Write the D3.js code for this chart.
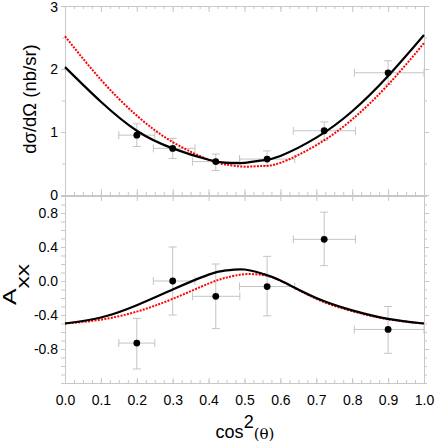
<!DOCTYPE html>
<html>
<head>
<meta charset="utf-8">
<script src="https://cdn.jsdelivr.net/npm/d3@7"></script>
<style>
	body { margin: 0; background: #fff; }
	text { font-family: 'Liberation Sans', Arial, sans-serif; fill: #000; }
	.axis path, .axis line { stroke: #c8c8c8; }
</style>
</head>
<body>
<svg></svg>
<script>
'use strict'

// measured points, cos^2(theta) bins
let pointX = [0.2, 0.3, 0.42, 0.563, 0.722, 0.9]
let binLo = [0.15, 0.246, 0.355, 0.486, 0.636, 0.806]
let binHi = [0.25, 0.362, 0.487, 0.64, 0.809, 1.0]

let xsecVal = [0.95, 0.74, 0.53, 0.57, 1.02, 1.94]
let xsecLo = [0.77, 0.58, 0.39, 0.47, 0.87, 1.75]
let xsecHi = [1.13, 0.90, 0.65, 0.70, 1.16, 2.13]

let axxVal = [-0.73, 0.0, -0.18, -0.065, 0.49, -0.57]
let axxLo = [-1.035, -0.40, -0.56, -0.41, 0.18, -0.85]
let axxHi = [-0.44, 0.40, 0.20, 0.29, 0.81, -0.30]

// model curves
let curveX = [0, 0.1, 0.2, 0.3, 0.4, 0.45, 0.5, 0.55, 0.6, 0.7, 0.8, 0.9, 1.0]
let xsecBlack = [2.03, 1.48, 1.02, 0.74, 0.56, 0.51, 0.51, 0.55, 0.62, 0.91, 1.33, 1.89, 2.54]
let xsecRed = [2.52, 1.83, 1.26, 0.84, 0.56, 0.48, 0.45, 0.46, 0.51, 0.79, 1.20, 1.75, 2.41]
let axxBlack = [-0.50, -0.43, -0.285, -0.10, 0.075, 0.125, 0.135, 0.085, 0.005, -0.20, -0.345, -0.445, -0.50]
let axxRed = [-0.50, -0.455, -0.36, -0.21, -0.03, 0.04, 0.08, 0.07, 0.005, -0.21, -0.355, -0.45, -0.50]

let xTicks = d3.range(0, 1.0001, 0.1)
let xMinor = d3.range(0, 1.0001, 0.025)
let xsecTicks = [0, 1, 2, 3]
let xsecMinor = d3.range(0, 3.01, 0.5)
let axxTicks = [-0.8, -0.4, 0.0, 0.4, 0.8]
let axxMinor = d3.range(-1.2, 1.001, 0.1)

let width = 436,
	height = 443

let svg = d3.select('svg')
	.attr('width', width)
	.attr('height', height)

let x = d3.scaleLinear().domain([0, 1]).range([65, 424])
let yTop = d3.scaleLinear().domain([0, 3]).range([195, 6])
let yBot = d3.scaleLinear().domain([-1.2, 1.0]).range([383, 196])

function drawAxis(axis, tx, ty) {
	let g = svg.append('g')
		.attr('class', 'axis')
		.attr('transform', 'translate(' + tx + ',' + ty + ')')
		.call(axis)
	g.selectAll('text').style('font-size', '14px')
	return g
}

// top panel frame
drawAxis(d3.axisTop(x).tickValues(xMinor).tickSize(-3).tickSizeOuter(0).tickFormat(''), 0, 6)
drawAxis(d3.axisTop(x).tickValues(xTicks).tickSize(-6).tickSizeOuter(0).tickFormat(''), 0, 6)
drawAxis(d3.axisBottom(x).tickValues(xMinor).tickSize(-3).tickSizeOuter(0).tickFormat(''), 0, 195)
drawAxis(d3.axisBottom(x).tickValues(xTicks).tickSize(-6).tickSizeOuter(0).tickFormat(''), 0, 195)
drawAxis(d3.axisLeft(yTop).tickValues(xsecMinor).tickSize(3).tickSizeOuter(0).tickFormat(''), 65, 0)
drawAxis(d3.axisLeft(yTop).tickValues(xsecTicks).tickSize(4).tickPadding(3).tickSizeOuter(0).tickFormat(d3.format('d')), 65, 0)
	.selectAll('text').filter(function(d) { return d === 3 }).attr('dy', '0.42em')
drawAxis(d3.axisRight(yTop).tickValues(xsecMinor).tickSize(3).tickSizeOuter(0).tickFormat(''), 424, 0)
drawAxis(d3.axisRight(yTop).tickValues(xsecTicks).tickSize(5).tickSizeOuter(0).tickFormat(''), 424, 0)

// bottom panel frame
drawAxis(d3.axisTop(x).tickValues(xTicks).tickSize(-5).tickSizeOuter(0).tickFormat(''), 0, 196)
drawAxis(d3.axisBottom(x).tickValues(xMinor).tickSize(-3).tickSizeOuter(0).tickFormat(''), 0, 383)
drawAxis(d3.axisBottom(x).tickValues(xTicks).tickSize(-5).tickPadding(12).tickSizeOuter(0).tickFormat(d3.format('.1f')), 0, 383)
drawAxis(d3.axisLeft(yBot).tickValues(axxMinor).tickSize(4).tickSizeOuter(0).tickFormat(''), 65, 0)
drawAxis(d3.axisLeft(yBot).tickValues(axxTicks).tickSize(4).tickPadding(3).tickSizeOuter(0).tickFormat(function(d) {
	return d.toFixed(1)
}), 65, 0)
drawAxis(d3.axisRight(yBot).tickValues(axxMinor).tickSize(3).tickSizeOuter(0).tickFormat(''), 424, 0)
drawAxis(d3.axisRight(yBot).tickValues(axxTicks).tickSize(5).tickSizeOuter(0).tickFormat(''), 424, 0)

function panel(y, vals, lo, hi, black, red) {

	let g = svg.append('g')
	let pts = pointX.map(function(px, i) {
		return { x: px, x0: binLo[i], x1: binHi[i], y: vals[i], y0: lo[i], y1: hi[i] }
	})

	let bars = g.append('g')
		.attr('stroke', '#c4c4c4')
		.attr('stroke-width', 1)
		.attr('fill', 'none')

	pts.forEach(function(d) {
		bars.append('line')
			.attr('x1', x(d.x0)).attr('x2', x(d.x1))
			.attr('y1', y(d.y)).attr('y2', y(d.y))
		bars.append('line')
			.attr('x1', x(d.x)).attr('x2', x(d.x))
			.attr('y1', y(d.y0)).attr('y2', y(d.y1))
		;[d.x0, d.x1].forEach(function(v) {
			bars.append('line')
				.attr('x1', x(v)).attr('x2', x(v))
				.attr('y1', y(d.y) - 4).attr('y2', y(d.y) + 4)
		})
		;[d.y0, d.y1].forEach(function(v) {
			bars.append('line')
				.attr('x1', x(d.x) - 4).attr('x2', x(d.x) + 4)
				.attr('y1', y(v)).attr('y2', y(v))
		})
	})

	let line = d3.line()
		.x(function(d) { return x(d[0]) })
		.y(function(d) { return y(d[1]) })
		.curve(d3.curveNatural)

	g.append('path')
		.datum(d3.zip(curveX, red))
		.attr('d', line)
		.attr('fill', 'none')
		.attr('stroke', '#ff0000')
		.attr('stroke-width', 2)
		.attr('stroke-dasharray', '2,1.3')

	g.append('path')
		.datum(d3.zip(curveX, black))
		.attr('d', line)
		.attr('fill', 'none')
		.attr('stroke', '#000')
		.attr('stroke-width', 2.2)

	g.selectAll('circle')
		.data(pts)
		.enter().append('circle')
		.attr('cx', function(d) { return x(d.x) })
		.attr('cy', function(d) { return y(d.y) })
		.attr('r', 3.4)
		.attr('fill', '#000')
}

panel(yTop, xsecVal, xsecLo, xsecHi, xsecBlack, xsecRed)
panel(yBot, axxVal, axxLo, axxHi, axxBlack, axxRed)

// axis titles
svg.append('text')
	.attr('transform', 'translate(36,99) rotate(-90)')
	.attr('text-anchor', 'middle')
	.style('font-size', '18.5px')
	.text('dσ/dΩ (nb/sr)')

let axx = svg.append('text')
	.attr('transform', 'translate(16,305) rotate(-90) scale(1.3,1)')
	.style('font-size', '19px')
axx.append('tspan').text('A')
axx.append('tspan').attr('dy', 13).text('xx')

let xt = svg.append('text')
	.attr('x', 245)
	.attr('y', 438)
	.attr('text-anchor', 'middle')
	.style('font-size', '18px')
xt.append('tspan').text('cos')
xt.append('tspan').attr('dy', -10).text('2')
xt.append('tspan').attr('dy', 11)
	.style('font-family', "'DejaVu Serif', serif")
	.style('font-size', '15px')
	.text('(θ)')
</script>
</body>
</html>
